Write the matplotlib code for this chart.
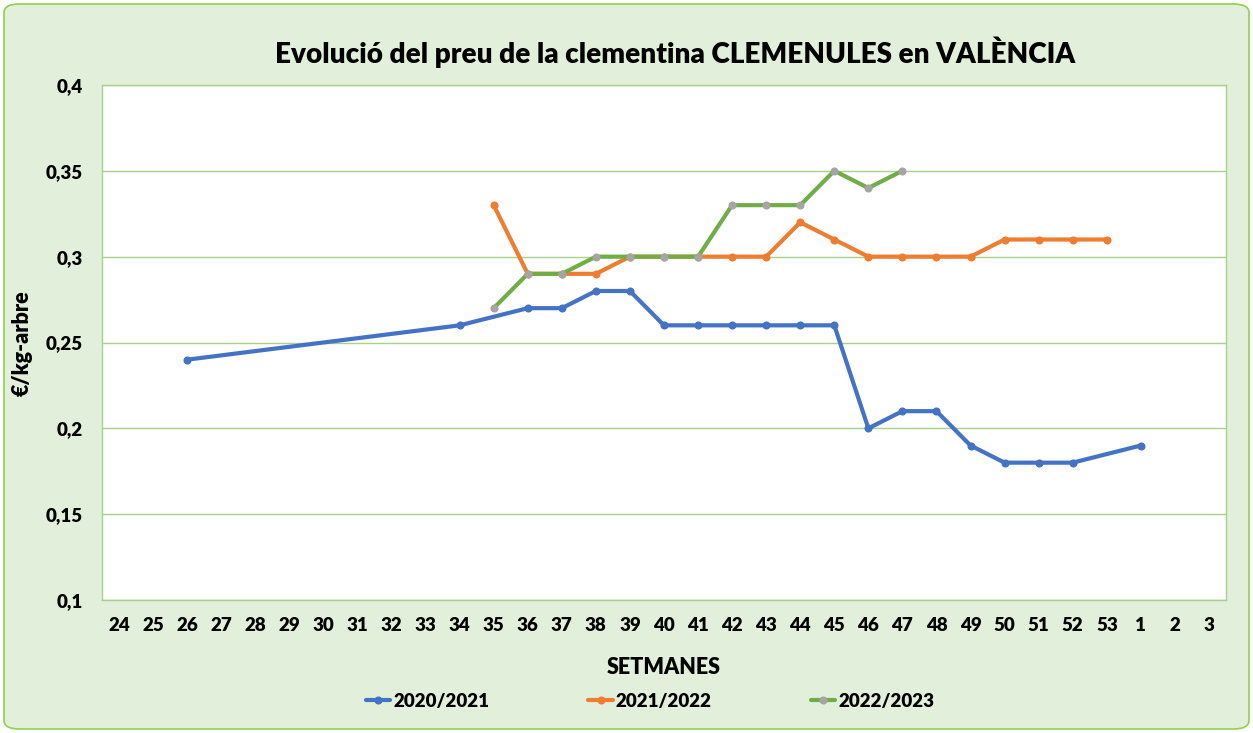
import matplotlib
matplotlib.use("Agg")
import matplotlib.pyplot as plt
from matplotlib.patches import FancyBboxPatch
import numpy as np

plt.rcParams['font.family'] = ['Lato', 'DejaVu Sans']
FW = 'heavy'
plt.rcParams['font.weight'] = FW

weeks = [str(w) for w in range(24, 54)] + ['1', '2', '3']

s2020 = [None, None, 0.24, None, None, None, None, None, None, None, 0.26, None,
         0.27, 0.27, 0.28, 0.28, 0.26, 0.26, 0.26, 0.26, 0.26, 0.26, 0.20, 0.21,
         0.21, 0.19, 0.18, 0.18, 0.18, None, 0.19, None, None]
s2021 = [None, None, None, None, None, None, None, None, None, None, None, 0.33,
         0.29, 0.29, 0.29, 0.30, 0.30, 0.30, 0.30, 0.30, 0.32, 0.31, 0.30, 0.30,
         0.30, 0.30, 0.31, 0.31, 0.31, 0.31, None, None, None]
s2022 = [None, None, None, None, None, None, None, None, None, None, None, 0.27,
         0.29, 0.29, 0.30, 0.30, 0.30, 0.30, 0.33, 0.33, 0.33, 0.35, 0.34, 0.35,
         None, None, None, None, None, None, None, None, None]

series = [
    ('2020/2021', s2020, '#4472C4', '#4472C4'),
    ('2021/2022', s2021, '#ED7D31', '#ED7D31'),
    ('2022/2023', s2022, '#70AD47', '#A5A5A5'),
]

W, H = 1253, 733
fig = plt.figure(figsize=(W / 100, H / 100), dpi=100)
fig.patch.set_facecolor('white')

bg = FancyBboxPatch((4 / W, 4 / H), (W - 8) / W, (H - 8) / H,
                    boxstyle="round,pad=0,rounding_size=0.012",
                    transform=fig.transFigure, facecolor='#E2EFDA',
                    edgecolor='#92D050', linewidth=1.2, zorder=-10)
fig.patches.append(bg)

ax = fig.add_axes([102 / W, (H - 600) / H, (1226 - 102) / W, (600 - 85) / H])
ax.set_facecolor('white')

x = np.arange(len(weeks))
for label, vals, col, mcol in series:
    xs = [xi for xi, v in zip(x, vals) if v is not None]
    ys = [v for v in vals if v is not None]
    ax.plot(xs, ys, color=col, linewidth=3, marker='o', markersize=4.8,
            markerfacecolor=mcol, markeredgecolor=mcol, label=label,
            solid_capstyle='round', solid_joinstyle='round')

ax.set_xlim(-0.5, len(weeks) - 0.5)
ax.set_ylim(0.1, 0.4)
yt = [0.1, 0.15, 0.2, 0.25, 0.3, 0.35, 0.4]
ax.set_yticks(yt)
ax.set_yticklabels(['0,1', '0,15', '0,2', '0,25', '0,3', '0,35', '0,4'])
ax.set_xticks(x)
ax.set_xticklabels(weeks)
ax.tick_params(axis='both', length=0, labelsize=13.5)
ax.tick_params(axis='x', pad=12)
ax.tick_params(axis='y', pad=14)
for t in ax.get_xticklabels() + ax.get_yticklabels():
    t.set_fontweight(FW)
ax.grid(axis='y', color='#A9D18E', linewidth=1)
ax.set_axisbelow(True)
for sp in ax.spines.values():
    sp.set_color('#A9D18E')
    sp.set_linewidth(1)

fig.text(675 / W, 1 - 52 / H, 'Evolució del preu de la clementina CLEMENULES en VALÈNCIA',
         ha='center', va='center', fontsize=20.1, fontweight=FW)
fig.text(664 / W, 1 - 668 / H, 'SETMANES', ha='center', va='center',
         fontsize=15.5, fontweight=FW)
fig.text(22 / W, 1 - 343 / H, '€/kg-arbre', ha='center', va='center',
         rotation=90, fontsize=15.5, fontweight=FW)

leg = fig.legend(loc='center', bbox_to_anchor=(650 / W, 1 - 701 / H), ncol=3,
                 frameon=False, handlelength=1.3, handletextpad=0.15,
                 columnspacing=5.3, prop={'weight': FW, 'size': 13.5})

fig.savefig('out.png', dpi=100)
